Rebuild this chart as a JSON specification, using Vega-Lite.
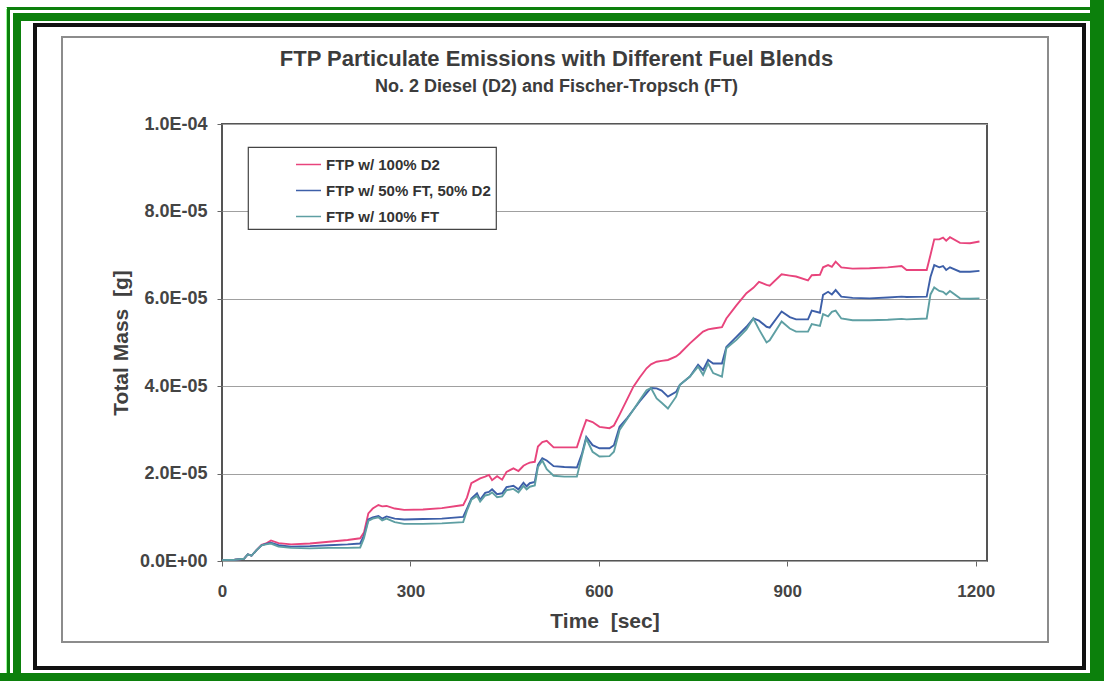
{
  "$schema": "https://vega.github.io/schema/vega-lite/v6.json",
  "width": 765,
  "height": 437,
  "autosize": {"type": "none"},
  "padding": {"left": 222, "top": 124, "right": 117, "bottom": 120},
  "background": "white",
  "config": {
    "font": "Liberation Sans",
    "view": {"stroke": "#555555", "strokeWidth": 2},
    "legend": {
      "orient": "none",
      "legendX": 26,
      "legendY": 23,
      "symbolType": "stroke",
      "symbolSize": 625,
      "symbolStrokeWidth": 1.5,
      "labelFont": "Liberation Sans",
      "labelFontSize": 15,
      "labelFontWeight": "bold",
      "labelColor": "#333333",
      "labelLimit": 400,
      "strokeColor": "#444444",
      "strokeWidth": 1.2,
      "fillColor": "white",
      "padding": 4,
      "symbolOffset": 43,
      "labelOffset": 4,
      "rowPadding": 4
    }
  },
  "title": {
    "text": "FTP Particulate Emissions with Different Fuel Blends",
    "subtitle": "No. 2 Diesel (D2) and Fischer-Tropsch (FT)",
    "font": "Liberation Sans",
    "subtitleFont": "Liberation Sans",
    "fontSize": 22,
    "subtitleFontSize": 18,
    "fontWeight": "bold",
    "subtitleFontWeight": "bold",
    "color": "#3c3c3c",
    "subtitleColor": "#3c3c3c",
    "anchor": "middle",
    "frame": "group",
    "dx": -48,
    "offset": -134,
    "subtitlePadding": 7
  },
  "data": {
    "values": [
      {"t": 0, "FTP w/ 100% D2": 0.02e-5, "FTP w/ 50% FT, 50% D2": 0.02e-5, "FTP w/ 100% FT": 0.02e-5},
      {"t": 20, "FTP w/ 100% D2": 0.03e-5, "FTP w/ 50% FT, 50% D2": 0.03e-5, "FTP w/ 100% FT": 0.03e-5},
      {"t": 35, "FTP w/ 100% D2": 0.05e-5, "FTP w/ 50% FT, 50% D2": 0.05e-5, "FTP w/ 100% FT": 0.05e-5},
      {"t": 41, "FTP w/ 100% D2": 0.15e-5, "FTP w/ 50% FT, 50% D2": 0.15e-5, "FTP w/ 100% FT": 0.15e-5},
      {"t": 47, "FTP w/ 100% D2": 0.12e-5, "FTP w/ 50% FT, 50% D2": 0.12e-5, "FTP w/ 100% FT": 0.12e-5},
      {"t": 55, "FTP w/ 100% D2": 0.25e-5, "FTP w/ 50% FT, 50% D2": 0.25e-5, "FTP w/ 100% FT": 0.25e-5},
      {"t": 63, "FTP w/ 100% D2": 0.37e-5, "FTP w/ 50% FT, 50% D2": 0.36e-5, "FTP w/ 100% FT": 0.36e-5},
      {"t": 70, "FTP w/ 100% D2": 0.40e-5, "FTP w/ 50% FT, 50% D2": 0.39e-5, "FTP w/ 100% FT": 0.38e-5},
      {"t": 78, "FTP w/ 100% D2": 0.47e-5, "FTP w/ 50% FT, 50% D2": 0.42e-5, "FTP w/ 100% FT": 0.40e-5},
      {"t": 90, "FTP w/ 100% D2": 0.41e-5, "FTP w/ 50% FT, 50% D2": 0.36e-5, "FTP w/ 100% FT": 0.33e-5},
      {"t": 110, "FTP w/ 100% D2": 0.38e-5, "FTP w/ 50% FT, 50% D2": 0.33e-5, "FTP w/ 100% FT": 0.30e-5},
      {"t": 140, "FTP w/ 100% D2": 0.40e-5, "FTP w/ 50% FT, 50% D2": 0.34e-5, "FTP w/ 100% FT": 0.29e-5},
      {"t": 170, "FTP w/ 100% D2": 0.44e-5, "FTP w/ 50% FT, 50% D2": 0.36e-5, "FTP w/ 100% FT": 0.30e-5},
      {"t": 200, "FTP w/ 100% D2": 0.48e-5, "FTP w/ 50% FT, 50% D2": 0.38e-5, "FTP w/ 100% FT": 0.30e-5},
      {"t": 220, "FTP w/ 100% D2": 0.52e-5, "FTP w/ 50% FT, 50% D2": 0.40e-5, "FTP w/ 100% FT": 0.31e-5},
      {"t": 226, "FTP w/ 100% D2": 0.65e-5, "FTP w/ 50% FT, 50% D2": 0.58e-5, "FTP w/ 100% FT": 0.52e-5},
      {"t": 233, "FTP w/ 100% D2": 1.09e-5, "FTP w/ 50% FT, 50% D2": 0.95e-5, "FTP w/ 100% FT": 0.92e-5},
      {"t": 240, "FTP w/ 100% D2": 1.20e-5, "FTP w/ 50% FT, 50% D2": 1.00e-5, "FTP w/ 100% FT": 0.97e-5},
      {"t": 249, "FTP w/ 100% D2": 1.28e-5, "FTP w/ 50% FT, 50% D2": 1.03e-5, "FTP w/ 100% FT": 1.00e-5},
      {"t": 255, "FTP w/ 100% D2": 1.25e-5, "FTP w/ 50% FT, 50% D2": 0.97e-5, "FTP w/ 100% FT": 0.93e-5},
      {"t": 262, "FTP w/ 100% D2": 1.26e-5, "FTP w/ 50% FT, 50% D2": 1.02e-5, "FTP w/ 100% FT": 0.97e-5},
      {"t": 275, "FTP w/ 100% D2": 1.20e-5, "FTP w/ 50% FT, 50% D2": 0.97e-5, "FTP w/ 100% FT": 0.89e-5},
      {"t": 290, "FTP w/ 100% D2": 1.17e-5, "FTP w/ 50% FT, 50% D2": 0.95e-5, "FTP w/ 100% FT": 0.85e-5},
      {"t": 320, "FTP w/ 100% D2": 1.18e-5, "FTP w/ 50% FT, 50% D2": 0.96e-5, "FTP w/ 100% FT": 0.85e-5},
      {"t": 350, "FTP w/ 100% D2": 1.21e-5, "FTP w/ 50% FT, 50% D2": 0.97e-5, "FTP w/ 100% FT": 0.86e-5},
      {"t": 384, "FTP w/ 100% D2": 1.28e-5, "FTP w/ 50% FT, 50% D2": 1.01e-5, "FTP w/ 100% FT": 0.89e-5},
      {"t": 390, "FTP w/ 100% D2": 1.45e-5, "FTP w/ 50% FT, 50% D2": 1.20e-5, "FTP w/ 100% FT": 1.15e-5},
      {"t": 397, "FTP w/ 100% D2": 1.78e-5, "FTP w/ 50% FT, 50% D2": 1.43e-5, "FTP w/ 100% FT": 1.40e-5},
      {"t": 406, "FTP w/ 100% D2": 1.85e-5, "FTP w/ 50% FT, 50% D2": 1.55e-5, "FTP w/ 100% FT": 1.49e-5},
      {"t": 411, "FTP w/ 100% D2": 1.89e-5, "FTP w/ 50% FT, 50% D2": 1.40e-5, "FTP w/ 100% FT": 1.36e-5},
      {"t": 419, "FTP w/ 100% D2": 1.93e-5, "FTP w/ 50% FT, 50% D2": 1.56e-5, "FTP w/ 100% FT": 1.50e-5},
      {"t": 425, "FTP w/ 100% D2": 1.97e-5, "FTP w/ 50% FT, 50% D2": 1.58e-5, "FTP w/ 100% FT": 1.52e-5},
      {"t": 430, "FTP w/ 100% D2": 1.85e-5, "FTP w/ 50% FT, 50% D2": 1.64e-5, "FTP w/ 100% FT": 1.57e-5},
      {"t": 438, "FTP w/ 100% D2": 1.94e-5, "FTP w/ 50% FT, 50% D2": 1.53e-5, "FTP w/ 100% FT": 1.46e-5},
      {"t": 446, "FTP w/ 100% D2": 1.86e-5, "FTP w/ 50% FT, 50% D2": 1.55e-5, "FTP w/ 100% FT": 1.48e-5},
      {"t": 453, "FTP w/ 100% D2": 2.04e-5, "FTP w/ 50% FT, 50% D2": 1.69e-5, "FTP w/ 100% FT": 1.62e-5},
      {"t": 464, "FTP w/ 100% D2": 2.12e-5, "FTP w/ 50% FT, 50% D2": 1.72e-5, "FTP w/ 100% FT": 1.65e-5},
      {"t": 472, "FTP w/ 100% D2": 2.06e-5, "FTP w/ 50% FT, 50% D2": 1.64e-5, "FTP w/ 100% FT": 1.57e-5},
      {"t": 480, "FTP w/ 100% D2": 2.18e-5, "FTP w/ 50% FT, 50% D2": 1.79e-5, "FTP w/ 100% FT": 1.72e-5},
      {"t": 485, "FTP w/ 100% D2": 2.22e-5, "FTP w/ 50% FT, 50% D2": 1.71e-5, "FTP w/ 100% FT": 1.64e-5},
      {"t": 490, "FTP w/ 100% D2": 2.25e-5, "FTP w/ 50% FT, 50% D2": 1.78e-5, "FTP w/ 100% FT": 1.70e-5},
      {"t": 498, "FTP w/ 100% D2": 2.27e-5, "FTP w/ 50% FT, 50% D2": 1.81e-5, "FTP w/ 100% FT": 1.73e-5},
      {"t": 503, "FTP w/ 100% D2": 2.62e-5, "FTP w/ 50% FT, 50% D2": 2.20e-5, "FTP w/ 100% FT": 2.15e-5},
      {"t": 510, "FTP w/ 100% D2": 2.72e-5, "FTP w/ 50% FT, 50% D2": 2.35e-5, "FTP w/ 100% FT": 2.30e-5},
      {"t": 517, "FTP w/ 100% D2": 2.75e-5, "FTP w/ 50% FT, 50% D2": 2.30e-5, "FTP w/ 100% FT": 2.10e-5},
      {"t": 528, "FTP w/ 100% D2": 2.60e-5, "FTP w/ 50% FT, 50% D2": 2.17e-5, "FTP w/ 100% FT": 1.95e-5},
      {"t": 545, "FTP w/ 100% D2": 2.60e-5, "FTP w/ 50% FT, 50% D2": 2.15e-5, "FTP w/ 100% FT": 1.93e-5},
      {"t": 565, "FTP w/ 100% D2": 2.60e-5, "FTP w/ 50% FT, 50% D2": 2.14e-5, "FTP w/ 100% FT": 1.93e-5},
      {"t": 573, "FTP w/ 100% D2": 2.95e-5, "FTP w/ 50% FT, 50% D2": 2.45e-5, "FTP w/ 100% FT": 2.40e-5},
      {"t": 580, "FTP w/ 100% D2": 3.23e-5, "FTP w/ 50% FT, 50% D2": 2.84e-5, "FTP w/ 100% FT": 2.80e-5},
      {"t": 590, "FTP w/ 100% D2": 3.18e-5, "FTP w/ 50% FT, 50% D2": 2.65e-5, "FTP w/ 100% FT": 2.50e-5},
      {"t": 601, "FTP w/ 100% D2": 3.07e-5, "FTP w/ 50% FT, 50% D2": 2.58e-5, "FTP w/ 100% FT": 2.39e-5},
      {"t": 617, "FTP w/ 100% D2": 3.04e-5, "FTP w/ 50% FT, 50% D2": 2.58e-5, "FTP w/ 100% FT": 2.40e-5},
      {"t": 624, "FTP w/ 100% D2": 3.10e-5, "FTP w/ 50% FT, 50% D2": 2.65e-5, "FTP w/ 100% FT": 2.50e-5},
      {"t": 633, "FTP w/ 100% D2": 3.35e-5, "FTP w/ 50% FT, 50% D2": 3.07e-5, "FTP w/ 100% FT": 3.00e-5},
      {"t": 645, "FTP w/ 100% D2": 3.70e-5, "FTP w/ 50% FT, 50% D2": 3.27e-5, "FTP w/ 100% FT": 3.25e-5},
      {"t": 655, "FTP w/ 100% D2": 3.99e-5, "FTP w/ 50% FT, 50% D2": 3.46e-5, "FTP w/ 100% FT": 3.46e-5},
      {"t": 665, "FTP w/ 100% D2": 4.20e-5, "FTP w/ 50% FT, 50% D2": 3.65e-5, "FTP w/ 100% FT": 3.68e-5},
      {"t": 676, "FTP w/ 100% D2": 4.41e-5, "FTP w/ 50% FT, 50% D2": 3.84e-5, "FTP w/ 100% FT": 3.91e-5},
      {"t": 683, "FTP w/ 100% D2": 4.50e-5, "FTP w/ 50% FT, 50% D2": 3.96e-5, "FTP w/ 100% FT": 3.96e-5},
      {"t": 692, "FTP w/ 100% D2": 4.56e-5, "FTP w/ 50% FT, 50% D2": 3.95e-5, "FTP w/ 100% FT": 3.72e-5},
      {"t": 700, "FTP w/ 100% D2": 4.58e-5, "FTP w/ 50% FT, 50% D2": 3.90e-5, "FTP w/ 100% FT": 3.62e-5},
      {"t": 710, "FTP w/ 100% D2": 4.60e-5, "FTP w/ 50% FT, 50% D2": 3.76e-5, "FTP w/ 100% FT": 3.49e-5},
      {"t": 723, "FTP w/ 100% D2": 4.68e-5, "FTP w/ 50% FT, 50% D2": 3.87e-5, "FTP w/ 100% FT": 3.76e-5},
      {"t": 729, "FTP w/ 100% D2": 4.75e-5, "FTP w/ 50% FT, 50% D2": 4.03e-5, "FTP w/ 100% FT": 4.03e-5},
      {"t": 745, "FTP w/ 100% D2": 4.98e-5, "FTP w/ 50% FT, 50% D2": 4.22e-5, "FTP w/ 100% FT": 4.22e-5},
      {"t": 758, "FTP w/ 100% D2": 5.15e-5, "FTP w/ 50% FT, 50% D2": 4.49e-5, "FTP w/ 100% FT": 4.45e-5},
      {"t": 766, "FTP w/ 100% D2": 5.25e-5, "FTP w/ 50% FT, 50% D2": 4.37e-5, "FTP w/ 100% FT": 4.26e-5},
      {"t": 774, "FTP w/ 100% D2": 5.30e-5, "FTP w/ 50% FT, 50% D2": 4.60e-5, "FTP w/ 100% FT": 4.52e-5},
      {"t": 782, "FTP w/ 100% D2": 5.32e-5, "FTP w/ 50% FT, 50% D2": 4.52e-5, "FTP w/ 100% FT": 4.30e-5},
      {"t": 796, "FTP w/ 100% D2": 5.35e-5, "FTP w/ 50% FT, 50% D2": 4.52e-5, "FTP w/ 100% FT": 4.22e-5},
      {"t": 803, "FTP w/ 100% D2": 5.55e-5, "FTP w/ 50% FT, 50% D2": 4.90e-5, "FTP w/ 100% FT": 4.87e-5},
      {"t": 819, "FTP w/ 100% D2": 5.85e-5, "FTP w/ 50% FT, 50% D2": 5.13e-5, "FTP w/ 100% FT": 5.06e-5},
      {"t": 835, "FTP w/ 100% D2": 6.13e-5, "FTP w/ 50% FT, 50% D2": 5.36e-5, "FTP w/ 100% FT": 5.30e-5},
      {"t": 846, "FTP w/ 100% D2": 6.25e-5, "FTP w/ 50% FT, 50% D2": 5.55e-5, "FTP w/ 100% FT": 5.55e-5},
      {"t": 855, "FTP w/ 100% D2": 6.39e-5, "FTP w/ 50% FT, 50% D2": 5.50e-5, "FTP w/ 100% FT": 5.30e-5},
      {"t": 867, "FTP w/ 100% D2": 6.32e-5, "FTP w/ 50% FT, 50% D2": 5.36e-5, "FTP w/ 100% FT": 5.00e-5},
      {"t": 872, "FTP w/ 100% D2": 6.30e-5, "FTP w/ 50% FT, 50% D2": 5.34e-5, "FTP w/ 100% FT": 5.05e-5},
      {"t": 891, "FTP w/ 100% D2": 6.56e-5, "FTP w/ 50% FT, 50% D2": 5.71e-5, "FTP w/ 100% FT": 5.48e-5},
      {"t": 904, "FTP w/ 100% D2": 6.53e-5, "FTP w/ 50% FT, 50% D2": 5.58e-5, "FTP w/ 100% FT": 5.32e-5},
      {"t": 914, "FTP w/ 100% D2": 6.51e-5, "FTP w/ 50% FT, 50% D2": 5.53e-5, "FTP w/ 100% FT": 5.25e-5},
      {"t": 933, "FTP w/ 100% D2": 6.42e-5, "FTP w/ 50% FT, 50% D2": 5.53e-5, "FTP w/ 100% FT": 5.25e-5},
      {"t": 939, "FTP w/ 100% D2": 6.54e-5, "FTP w/ 50% FT, 50% D2": 5.73e-5, "FTP w/ 100% FT": 5.42e-5},
      {"t": 952, "FTP w/ 100% D2": 6.55e-5, "FTP w/ 50% FT, 50% D2": 5.68e-5, "FTP w/ 100% FT": 5.38e-5},
      {"t": 957, "FTP w/ 100% D2": 6.72e-5, "FTP w/ 50% FT, 50% D2": 6.09e-5, "FTP w/ 100% FT": 5.65e-5},
      {"t": 965, "FTP w/ 100% D2": 6.77e-5, "FTP w/ 50% FT, 50% D2": 6.16e-5, "FTP w/ 100% FT": 5.60e-5},
      {"t": 971, "FTP w/ 100% D2": 6.73e-5, "FTP w/ 50% FT, 50% D2": 6.10e-5, "FTP w/ 100% FT": 5.70e-5},
      {"t": 977, "FTP w/ 100% D2": 6.85e-5, "FTP w/ 50% FT, 50% D2": 6.20e-5, "FTP w/ 100% FT": 5.73e-5},
      {"t": 986, "FTP w/ 100% D2": 6.72e-5, "FTP w/ 50% FT, 50% D2": 6.05e-5, "FTP w/ 100% FT": 5.55e-5},
      {"t": 1004, "FTP w/ 100% D2": 6.69e-5, "FTP w/ 50% FT, 50% D2": 6.02e-5, "FTP w/ 100% FT": 5.51e-5},
      {"t": 1031, "FTP w/ 100% D2": 6.70e-5, "FTP w/ 50% FT, 50% D2": 6.01e-5, "FTP w/ 100% FT": 5.51e-5},
      {"t": 1060, "FTP w/ 100% D2": 6.72e-5, "FTP w/ 50% FT, 50% D2": 6.03e-5, "FTP w/ 100% FT": 5.52e-5},
      {"t": 1082, "FTP w/ 100% D2": 6.75e-5, "FTP w/ 50% FT, 50% D2": 6.05e-5, "FTP w/ 100% FT": 5.54e-5},
      {"t": 1090, "FTP w/ 100% D2": 6.66e-5, "FTP w/ 50% FT, 50% D2": 6.04e-5, "FTP w/ 100% FT": 5.53e-5},
      {"t": 1122, "FTP w/ 100% D2": 6.66e-5, "FTP w/ 50% FT, 50% D2": 6.05e-5, "FTP w/ 100% FT": 5.55e-5},
      {"t": 1128, "FTP w/ 100% D2": 7.00e-5, "FTP w/ 50% FT, 50% D2": 6.50e-5, "FTP w/ 100% FT": 6.10e-5},
      {"t": 1134, "FTP w/ 100% D2": 7.36e-5, "FTP w/ 50% FT, 50% D2": 6.77e-5, "FTP w/ 100% FT": 6.26e-5},
      {"t": 1142, "FTP w/ 100% D2": 7.36e-5, "FTP w/ 50% FT, 50% D2": 6.72e-5, "FTP w/ 100% FT": 6.18e-5},
      {"t": 1148, "FTP w/ 100% D2": 7.40e-5, "FTP w/ 50% FT, 50% D2": 6.75e-5, "FTP w/ 100% FT": 6.16e-5},
      {"t": 1153, "FTP w/ 100% D2": 7.33e-5, "FTP w/ 50% FT, 50% D2": 6.66e-5, "FTP w/ 100% FT": 6.10e-5},
      {"t": 1159, "FTP w/ 100% D2": 7.41e-5, "FTP w/ 50% FT, 50% D2": 6.72e-5, "FTP w/ 100% FT": 6.18e-5},
      {"t": 1175, "FTP w/ 100% D2": 7.28e-5, "FTP w/ 50% FT, 50% D2": 6.62e-5, "FTP w/ 100% FT": 6.01e-5},
      {"t": 1191, "FTP w/ 100% D2": 7.27e-5, "FTP w/ 50% FT, 50% D2": 6.62e-5, "FTP w/ 100% FT": 6.00e-5},
      {"t": 1206, "FTP w/ 100% D2": 7.31e-5, "FTP w/ 50% FT, 50% D2": 6.64e-5, "FTP w/ 100% FT": 6.01e-5}
    ]
  },
  "layer": [
    {
      "mark": {"type": "rect", "filled": false, "stroke": "#0c800c", "strokeWidth": 3, "clip": false},
      "encoding": {
        "x": {"datum": -339.93, "type": "quantitative", "scale": {"domain": [0, 1218], "nice": false, "zero": false}},
        "x2": {"datum": 1393.14},
        "y": {"datum": 1.2643e-4, "type": "quantitative", "scale": {"domain": [0, 0.0001], "nice": false, "zero": false}},
        "y2": {"datum": -2.72311e-5}
      }
    },
    {
      "mark": {"type": "rect", "filled": false, "stroke": "#0c800c", "strokeWidth": 8, "clip": false},
      "encoding": {
        "x": {"datum": -326.39, "type": "quantitative", "scale": {"domain": [0, 1218], "nice": false, "zero": false}},
        "x2": {"datum": 1393.14},
        "y": {"datum": 1.24485e-4, "type": "quantitative", "scale": {"domain": [0, 0.0001], "nice": false, "zero": false}},
        "y2": {"datum": -2.72311e-5}
      }
    },
    {
      "mark": {"type": "rect", "filled": false, "stroke": "#0c800c", "strokeWidth": 14, "clip": false},
      "encoding": {
        "x": {"datum": -401.22, "type": "quantitative", "scale": {"domain": [0, 1218], "nice": false, "zero": false}},
        "x2": {"datum": 1393.14},
        "y": {"datum": 1.3524e-4, "type": "quantitative", "scale": {"domain": [0, 0.0001], "nice": false, "zero": false}},
        "y2": {"datum": -2.72311e-5}
      }
    },
    {
      "mark": {"type": "rect", "filled": false, "stroke": "#111111", "strokeWidth": 2.5, "clip": false},
      "encoding": {
        "x": {"datum": -297.73, "type": "quantitative", "scale": {"domain": [0, 1218], "nice": false, "zero": false}},
        "x2": {"datum": 1372.44},
        "y": {"datum": 1.22654e-4, "type": "quantitative", "scale": {"domain": [0, 0.0001], "nice": false, "zero": false}},
        "y2": {"datum": -2.44851e-5}
      }
    },
    {
      "mark": {"type": "rect", "filled": false, "stroke": "#8c8c8c", "strokeWidth": 1.5, "clip": false},
      "encoding": {
        "x": {"datum": -254.75, "type": "quantitative", "scale": {"domain": [0, 1218], "nice": false, "zero": false}},
        "x2": {"datum": 1315.12},
        "y": {"datum": 1.19908e-4, "type": "quantitative", "scale": {"domain": [0, 0.0001], "nice": false, "zero": false}},
        "y2": {"datum": -1.85355e-5}
      }
    },
    {
      "transform": [
        {"fold": ["FTP w/ 100% D2", "FTP w/ 50% FT, 50% D2", "FTP w/ 100% FT"], "as": ["fuel", "mass"]}
      ],
      "mark": {"type": "line", "strokeWidth": 1.9, "clip": false},
      "encoding": {
        "x": {
          "field": "t",
          "type": "quantitative",
          "scale": {"domain": [0, 1218], "nice": false, "zero": false},
          "axis": {
            "title": "Time\u00a0 [sec]",
            "values": [0, 300, 600, 900, 1200],
            "format": "d",
            "grid": false,
            "domain": false,
            "ticks": true,
            "tickSize": 5,
            "tickColor": "#666666",
            "labelFlush": false,
            "labelOverlap": false,
            "labelFont": "Liberation Sans",
            "labelFontSize": 17,
            "labelFontWeight": "bold",
            "labelColor": "#444444",
            "labelPadding": 17,
            "titleFont": "Liberation Sans",
            "titleFontSize": 21,
            "titleFontWeight": "bold",
            "titleColor": "#404040",
            "titlePadding": 11
          }
        },
        "y": {
          "field": "mass",
          "type": "quantitative",
          "scale": {"domain": [0, 0.0001], "nice": false, "zero": false},
          "axis": {
            "title": "Total Mass\u00a0 [g]",
            "values": [0, 0.00002, 0.00004, 0.00006, 0.00008, 0.0001],
            "labelExpr": "replace(replace(format(datum.value, '.1e'), 'e-', 'E-0'), 'e+', 'E+0')",
            "grid": true,
            "gridColor": "#a0a0a0",
            "gridWidth": 1,
            "domain": false,
            "ticks": true,
            "tickSize": 5,
            "tickColor": "#666666",
            "labelFlush": false,
            "labelOverlap": false,
            "labelFont": "Liberation Sans",
            "labelFontSize": 18,
            "labelFontWeight": "bold",
            "labelColor": "#444444",
            "labelPadding": 10,
            "titleFont": "Liberation Sans",
            "titleFontSize": 21,
            "titleFontWeight": "bold",
            "titleColor": "#404040",
            "titlePadding": 8
          }
        },
        "color": {
          "field": "fuel",
          "type": "nominal",
          "scale": {
            "domain": ["FTP w/ 100% D2", "FTP w/ 50% FT, 50% D2", "FTP w/ 100% FT"],
            "range": ["#e8447c", "#3d5fa8", "#5e9fa3"]
          },
          "legend": {"title": null}
        }
      }
    }
  ]
}
